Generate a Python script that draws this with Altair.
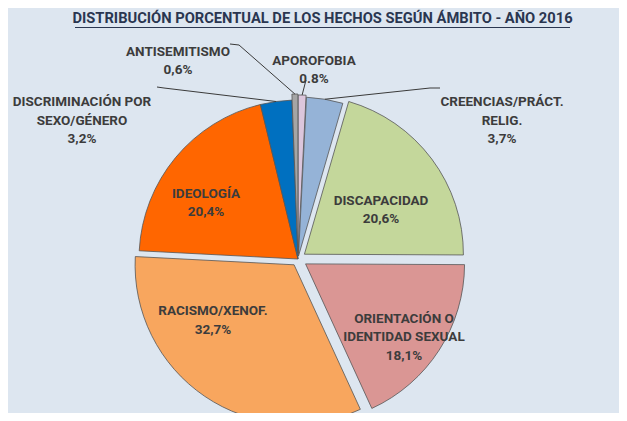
import altair as alt
import pandas as pd

# ---------------- data ----------------
categories = [
    "APOROFOBIA",
    "CREENCIAS/PRÁCT. RELIG.",
    "DISCAPACIDAD",
    "ORIENTACIÓN O IDENTIDAD SEXUAL",
    "RACISMO/XENOF.",
    "IDEOLOGÍA",
    "DISCRIMINACIÓN POR SEXO/GÉNERO",
    "ANTISEMITISMO",
]
label_names = [
    "APOROFOBIA",
    "CREENCIAS/PRÁCT.\nRELIG.",
    "DISCAPACIDAD",
    "ORIENTACIÓN O\nIDENTIDAD SEXUAL",
    "RACISMO/XENOF.",
    "IDEOLOGÍA",
    "DISCRIMINACIÓN POR\nSEXO/GÉNERO",
    "ANTISEMITISMO",
]
values = [0.8, 3.7, 20.6, 18.1, 32.7, 20.4, 3.2, 0.6]
value_labels = ["0.8%", "3,7%", "20,6%", "18,1%", "32,7%", "20,4%", "3,2%", "0,6%"]
title_text = "DISTRIBUCIÓN PORCENTUAL DE LOS HECHOS SEGÚN ÁMBITO - AÑO 2016"

# ---------------- styles / layout ----------------
colors = ["#dcc6dc", "#95b3d7", "#c4d79b", "#da9694", "#f8a65e", "#ff6600", "#0070c0", "#a5a5a5"]
explode = [5, 3, 8, 9, 7, 0, 0, 6]          # slice explosion (px)
CX, CY, R = 290, 251, 159                    # pie centre & radius (plot px)
label_pos = [(306, 52.5), (494, 94), (373, 192.5), (396, 310.5),
             (205, 303), (198, 185.5), (74, 94), (170, 43.5)]
leader_start = [(298, 72), (432, 80), None, None, None, None, (149, 79), (222, 36)]
leader_elbow = [(298, 72), (422, 80), None, None, None, None, (156, 80), (231, 37)]

FONT = "Roboto, sans-serif"
TEXT_COLOR = "#3c3c3c"

rows = []
for i, c in enumerate(categories):
    s = leader_start[i]
    e = leader_elbow[i]
    rows.append({
        "category": c,
        "value": values[i],
        "order": i,
        "text": label_names[i] + "\n" + value_labels[i],
        "explode": explode[i],
        "lx": label_pos[i][0],
        "ly": label_pos[i][1],
        "sx": s[0] if s else None,
        "sy": s[1] if s else None,
        "ex": e[0] if e else None,
        "ey": e[1] if e else None,
    })
df = pd.DataFrame(rows)

base = (
    alt.Chart(df)
    .transform_joinaggregate(total="sum(value)")
    .transform_window(cum="sum(value)", sort=[alt.SortField("order")], frame=[None, 0])
    .transform_calculate(
        mid="2*PI*(datum.cum - datum.value/2)/datum.total",
    )
    .transform_calculate(
        cx=f"{CX} + datum.explode*sin(datum.mid)",
        cy=f"{CY} - datum.explode*cos(datum.mid)",
    )
    .transform_calculate(
        px=f"datum.cx + {R}*sin(datum.mid)",
        py=f"datum.cy - {R}*cos(datum.mid)",
    )
)

arcs = base.mark_arc(outerRadius=R, stroke="#555555", strokeWidth=0.8).encode(
    theta=alt.Theta("value:Q", stack=True),
    order=alt.Order("order:Q", sort="ascending"),
    color=alt.Color("category:N", scale=alt.Scale(domain=categories, range=colors), legend=None),
    x=alt.X("cx:Q", scale=None),
    y=alt.Y("cy:Q", scale=None),
)

leaders_a = base.transform_filter("isValid(datum.ex)").mark_rule(color="#3a3a3a", strokeWidth=1).encode(
    x=alt.X("ex:Q", scale=None), y=alt.Y("ey:Q", scale=None),
    x2="px:Q", y2="py:Q",
)
leaders_b = base.transform_filter("isValid(datum.ex)").mark_rule(color="#3a3a3a", strokeWidth=1).encode(
    x=alt.X("sx:Q", scale=None), y=alt.Y("sy:Q", scale=None),
    x2="ex:Q", y2="ey:Q",
)

labels = alt.Chart(df).mark_text(
    lineBreak="\n", font=FONT, fontSize=13.5, fontWeight="bold", color=TEXT_COLOR,
    lineHeight=18.5, align="center", baseline="middle",
).encode(
    x=alt.X("lx:Q", scale=None), y=alt.Y("ly:Q", scale=None), text="text:N",
)

title = alt.Chart(pd.DataFrame({"t": [title_text]})).mark_text(
    font=FONT, fontSize=14.7, fontWeight="bold", color="#2a3650", align="center", baseline="middle",
).encode(x=alt.value(314.5), y=alt.value(11), text="t:N")

underline = alt.Chart(pd.DataFrame({"t": [title_text]})).mark_rule(color="#2a3650", strokeWidth=1.2).encode(
    x=alt.value(67), x2=alt.value(562), y=alt.value(19.5),
)

chart = (
    alt.layer(arcs, leaders_a, leaders_b, labels, title, underline)
    .properties(width=611, height=405, autosize="none", padding=0, background="#dde6f0")
    .configure_view(stroke=None)
)

chart.save("out.html", embed_options={"renderer": "svg", "actions": False})
